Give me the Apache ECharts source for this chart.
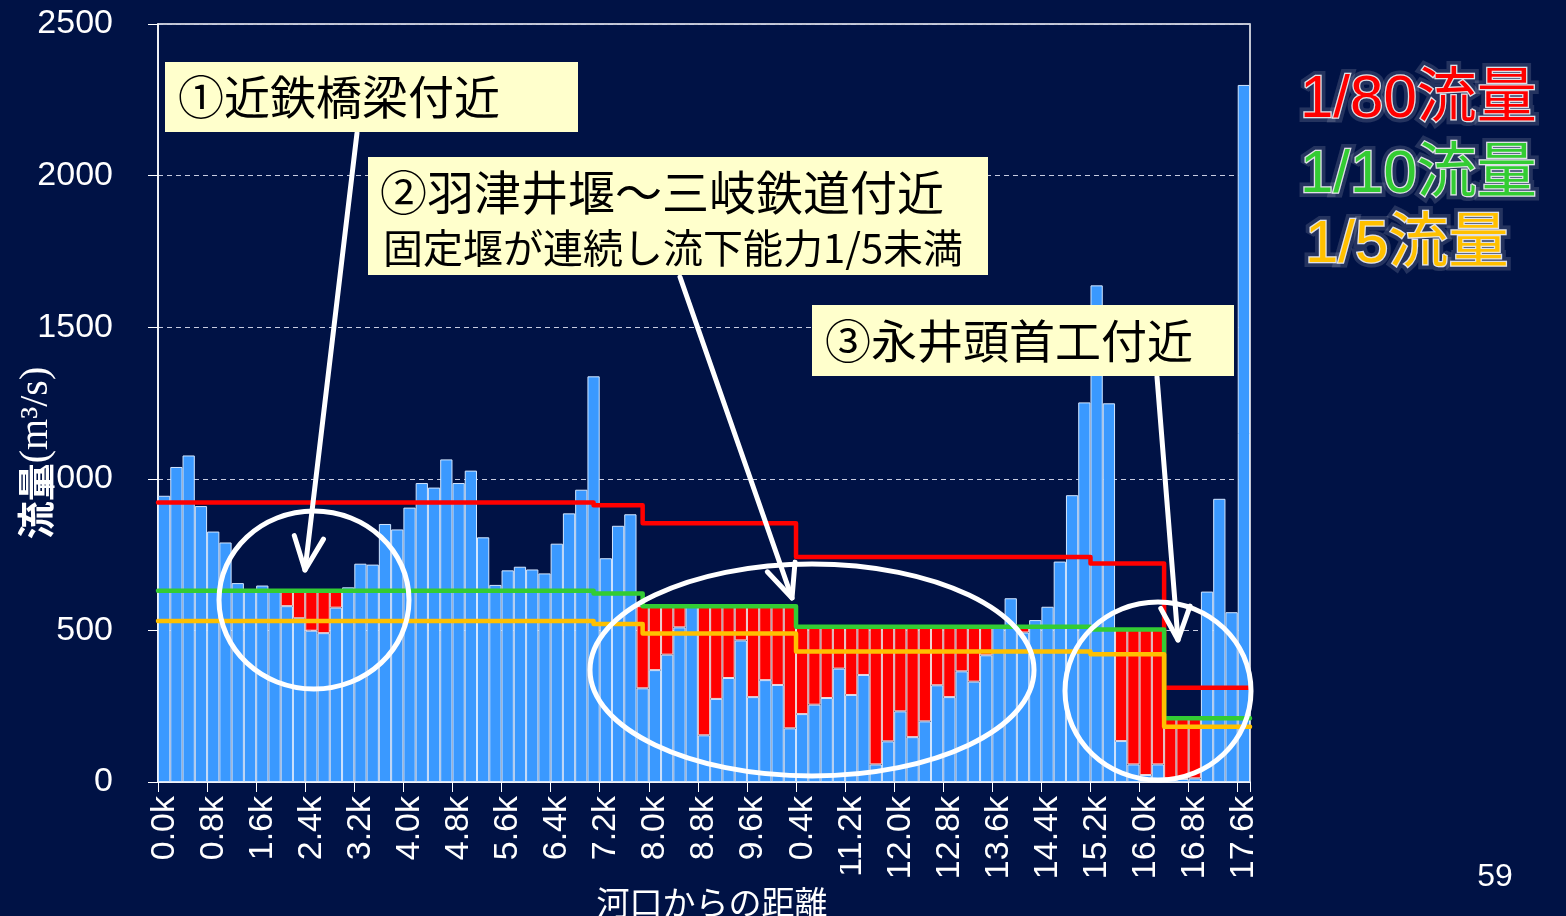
<!DOCTYPE html>
<html>
<head>
<meta charset="utf-8">
<script src="https://cdn.jsdelivr.net/npm/echarts@6/dist/echarts.min.js"></script>
<style>
  html, body { margin: 0; padding: 0; background: #001245; }
  #chart { width: 1566px; height: 916px; }
</style>
</head>
<body>
<div id="chart"></div>
<script>
// Distance from the river mouth, one section every 0.2 km
const categories = [
  '0.0k','0.2k','0.4k','0.6k','0.8k','1.0k','1.2k','1.4k','1.6k','1.8k',
  '2.0k','2.2k','2.4k','2.6k','2.8k','3.0k','3.2k','3.4k','3.6k','3.8k',
  '4.0k','4.2k','4.4k','4.6k','4.8k','5.0k','5.2k','5.4k','5.6k','5.8k',
  '6.0k','6.2k','6.4k','6.6k','6.8k','7.0k','7.2k','7.4k','7.6k','7.8k',
  '8.0k','8.2k','8.4k','8.6k','8.8k','9.0k','9.2k','9.4k','9.6k','9.8k',
  '10.0k','10.2k','10.4k','10.6k','10.8k','11.0k','11.2k','11.4k','11.6k','11.8k',
  '12.0k','12.2k','12.4k','12.6k','12.8k','13.0k','13.2k','13.4k','13.6k','13.8k',
  '14.0k','14.2k','14.4k','14.6k','14.8k','15.0k','15.2k','15.4k','15.6k','15.8k',
  '16.0k','16.2k','16.4k','16.6k','16.8k','17.0k','17.2k','17.4k','17.6k'
];

// Flow capacity of each section (m3/s)
const capacity = [
  944, 1039, 1077, 910, 826, 790, 656, 636, 648, 636,
  580, 540, 499, 491, 575, 642, 720, 717, 851, 833,
  905, 986, 971, 1064, 986, 1027, 807, 650, 698, 710,
  701, 688, 786, 886, 964, 1338, 738, 845, 883, 309,
  369, 420, 510, 584, 154, 274, 343, 467, 280, 336,
  320, 177, 224, 255, 277, 374, 287, 353, 58, 134,
  233, 148, 200, 319, 280, 365, 331, 418, 514, 606,
  493, 534, 578, 727, 946, 1252, 1638, 1249, 135, 58,
  23, 58, 12, 10, 12, 628, 934, 560, 2299
];

// Design discharge by reach: reach start (km) and flow for each return period
const sectionStartKm = [0.0, 7.0, 7.8, 10.3, 15.1, 16.3];
const flow1in80 = [922, 913, 853, 742, 721, 311];
const flow1in10 = [631, 622, 580, 512, 503, 210];
const flow1in5  = [531, 521, 490, 430, 421, 182];

const KM_MIN = -0.1, KM_MAX = 17.7;   // outer edges of the first and last section

function levelAt(levels, km) {
  let v = levels[0];
  for (let k = 0; k < sectionStartKm.length; k++) {
    if (km + 1e-6 >= sectionStartKm[k]) v = levels[k];
  }
  return v;
}

function stepLine(levels) {
  const pts = [[KM_MIN, levels[0]]];
  for (let k = 1; k < sectionStartKm.length; k++) pts.push([sectionStartKm[k], levels[k]]);
  pts.push([KM_MAX, levels[levels.length - 1]]);
  return pts;
}

// Shortfall of capacity against the 1/10 flow, stacked on top of each bar
const shortfall = capacity.map((v, i) => {
  const gap = levelAt(flow1in10, parseFloat(categories[i])) - v;
  return gap > 0 ? gap : '-';
});

const NAVY = '#001245';
const CJK = '"Noto Sans CJK JP", sans-serif';
const TOP = 100;

function arrow(x1, y1, x2, y2) {
  const ang = Math.atan2(y2 - y1, x2 - x1);
  const L = 36, a = 0.42;
  const w1 = [x2 - L * Math.cos(ang - a), y2 - L * Math.sin(ang - a)];
  const w2 = [x2 - L * Math.cos(ang + a), y2 - L * Math.sin(ang + a)];
  const st = { stroke: '#ffffff', lineWidth: 5, lineCap: 'round', lineJoin: 'round', fill: 'none' };
  return [
    { type: 'line', z: TOP, shape: { x1: x1, y1: y1, x2: x2, y2: y2 }, style: st },
    { type: 'polyline', z: TOP, shape: { points: [w1, [x2, y2], w2] }, style: st }
  ];
}

function ring(cx, cy, rx, ry) {
  return { type: 'ellipse', z: TOP, shape: { cx: cx, cy: cy, rx: rx, ry: ry },
           style: { fill: 'none', stroke: '#ffffff', lineWidth: 5 } };
}

function box(x, y, w, h, fill) {
  return { type: 'rect', z: TOP + 1, shape: { x: x, y: y, width: w, height: h },
           style: { fill: fill || '#FFFFCC' } };
}

function label(x, y, text, size, color) {
  return { type: 'text', z: TOP + 2, x: x, y: y,
    style: { text: text, fill: color, font: size + 'px ' + CJK, verticalAlign: 'middle', align: 'left' } };
}

// Caption with a soft white halo behind the coloured glyphs
function glowLabel(x, y, text, size, color) {
  const font = size + 'px "Liberation Sans", "Noto Sans CJK JP", sans-serif';
  const base = { text: text, font: font, verticalAlign: 'middle', align: 'left' };
  return [
    { type: 'text', z: TOP + 2, x: x, y: y, style: Object.assign({}, base,
        { fill: '#ffffff', stroke: '#ffffff', lineWidth: 10, opacity: 0.14 }) },
    { type: 'text', z: TOP + 3, x: x, y: y, style: Object.assign({}, base,
        { fill: '#ffffff', stroke: '#ffffff', lineWidth: 2.5, opacity: 0.85 }) },
    { type: 'text', z: TOP + 4, x: x, y: y, style: Object.assign({}, base, { fill: color }) }
  ];
}

const chart = echarts.init(document.getElementById('chart'));

chart.setOption({
  backgroundColor: NAVY,
  animation: false,
  grid: { left: 158, right: 316, top: 24, bottom: 134, show: true, containLabel: false,
          outerBoundsMode: 'none',
          borderColor: '#ffffff', borderWidth: 1.5, backgroundColor: 'transparent' },
  xAxis: [
    {
      type: 'category',
      data: categories,
      boundaryGap: true,
      axisLine: { lineStyle: { color: '#ffffff', width: 1.5 } },
      axisTick: { show: true, interval: 3, length: 10, lineStyle: { color: '#ffffff' } },
      axisLabel: { interval: 3, rotate: 90, color: '#ffffff', fontSize: 34,
                   fontFamily: '"Liberation Sans", Arial, sans-serif', margin: 14 },
      splitLine: { show: false }
    },
    { type: 'value', min: KM_MIN, max: KM_MAX, show: false }
  ],
  yAxis: {
    type: 'value',
    min: 0, max: 2500, interval: 500,
    axisLine: { show: true, onZero: false, lineStyle: { color: '#ffffff', width: 1.5 } },
    axisTick: { show: true, length: 10, lineStyle: { color: '#ffffff' } },
    axisLabel: { color: '#ffffff', fontSize: 34, fontFamily: '"Liberation Sans", Arial, sans-serif',
                 margin: 45, formatter: function (v) { return String(v); } },
    splitLine: { show: true, lineStyle: { color: '#c8cce0', width: 1, type: [5, 4] } },
    name: '{a|流量}{b|(m³/s)}',
    nameLocation: 'middle',
    nameGap: 102,
    nameMoveOverlap: false,
    nameTextStyle: {
      color: '#ffffff',
      padding: [0, 100, 0, 0],
      rich: {
        a: { fontSize: 38, fontWeight: 'bold', fontFamily: CJK, color: '#ffffff' },
        b: { fontSize: 40, fontFamily: '"Liberation Serif", serif', color: '#ffffff' }
      }
    }
  },
  series: [
    {
      name: '流下能力', type: 'bar', stack: 'q', data: capacity,
      barCategoryGap: '0%',
      itemStyle: { color: '#3A99FF', borderColor: '#d2e6ff', borderWidth: 1 }
    },
    {
      name: '不足', type: 'bar', stack: 'q', data: shortfall,
      barCategoryGap: '0%',
      itemStyle: { color: '#FF0000', borderColor: '#f2d6d6', borderWidth: 1 }
    },
    {
      name: '1/80流量', type: 'line', xAxisIndex: 1, step: 'end', data: stepLine(flow1in80),
      symbol: 'none', z: 5,
      lineStyle: { color: '#FF0000', width: 4.5, cap: 'round', join: 'round' }
    },
    {
      name: '1/10流量', type: 'line', xAxisIndex: 1, step: 'end', data: stepLine(flow1in10),
      symbol: 'none', z: 5,
      lineStyle: { color: '#33CC33', width: 4.5, cap: 'round', join: 'round' }
    },
    {
      name: '1/5流量', type: 'line', xAxisIndex: 1, step: 'end', data: stepLine(flow1in5),
      symbol: 'none', z: 5,
      lineStyle: { color: '#FFC000', width: 4.5, cap: 'round', join: 'round' }
    }
  ],
  graphic: [].concat(
    [ring(314, 600, 95, 89), ring(812, 670, 222, 106), ring(1158, 691, 93, 89)],
    arrow(357, 133, 305, 570),
    arrow(680, 277, 792, 598),
    arrow(1157, 377, 1178, 640),
    [
      box(165, 62, 413, 70),
      label(178, 97, '①近鉄橋梁付近', 46, '#000000'),
      box(368, 157, 620, 118),
      label(380, 192, '②羽津井堰～三岐鉄道付近', 47, '#000000'),
      label(383, 248, '固定堰が連続し流下能力1/5未満', 40, '#000000'),
      box(812, 305, 422, 71),
      label(825, 341, '③永井頭首工付近', 46, '#000000'),
      // x-axis title on its own backing panel
      box(588, 862, 252, 54, NAVY),
      { type: 'text', z: TOP + 2, x: 712, y: 902,
        style: { text: '河口からの距離', fill: '#ffffff', font: '33px ' + CJK,
                 align: 'center', verticalAlign: 'middle' } }
    ],
    glowLabel(1300, 100, '1/80流量', 60, '#FF0000'),
    glowLabel(1300, 175, '1/10流量', 60, '#33CC33'),
    glowLabel(1305, 245, '1/5流量', 60, '#FFC000'),
    [
      { type: 'text', z: TOP + 2, x: 1495, y: 877,
        style: { text: '59', fill: '#ffffff', font: '32px "Liberation Sans Narrow", "Liberation Sans", sans-serif',
                 align: 'center', verticalAlign: 'middle' } }
    ]
  )
});
</script>
</body>
</html>
